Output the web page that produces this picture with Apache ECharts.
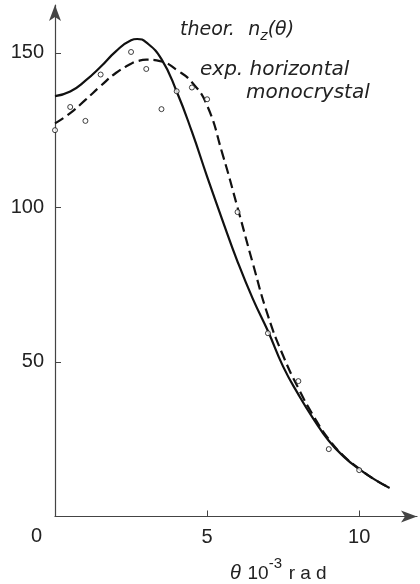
<!DOCTYPE html>
<html>
<head>
<meta charset="utf-8">
<script src="https://cdn.jsdelivr.net/npm/echarts@6/dist/echarts.min.js"></script>
<style>
  html, body { margin: 0; padding: 0; background: #fff; }
  #chart { width: 420px; height: 584px; }
</style>
</head>
<body>
<div id="chart"></div>
<script>
// Scattering angle theta (10^-3 rad) sampled along the curves
const curveTheta = [0, 0.5, 1, 1.5, 2, 2.5, 2.7, 3, 3.5, 4, 4.5, 5, 5.5, 6, 6.5, 7, 7.5, 8, 8.5, 9, 9.5, 10, 10.5, 11];
// Theoretical n_z(theta)
const theorValues = [136, 137.5, 141, 145.5, 150.5, 154.1, 154.5, 153.4, 148, 137.5, 124.5, 110, 96, 82.5, 70.5, 60, 48.5, 39.5, 31.5, 24.5, 19.3, 15.3, 12, 9.2];
// Smoothed experimental curve, horizontal monocrystal
const expCurveValues = [127.2, 130.5, 134.8, 139.3, 143.5, 146.5, 147.3, 147.8, 147.2, 144.5, 140.5, 133, 117.5, 100, 82, 65, 52, 41.5, 32.5, 25, 19.5, 15.5, 12, 9.3];
// Measured points
const pointTheta = [0, 0.5, 1, 1.5, 2.5, 3, 3.5, 4, 4.5, 5, 6, 7, 8, 9, 10];
const pointValues = [125, 132.5, 128, 143, 150.3, 144.8, 131.8, 137.6, 138.8, 135, 98.5, 59.3, 43.8, 21.8, 15];
// Axis ticks
const xTicks = [0, 5, 10];
const yTicks = [50, 100, 150];

const zip = (xs, ys) => xs.map((x, i) => [x, ys[i]]);

const chart = echarts.init(document.getElementById('chart'), null, { renderer: 'canvas' });
const axisColor = '#444';
const tickFamily = 'Liberation Sans, Arial, sans-serif';
const noteFont = 'DejaVu Sans, sans-serif';

chart.setOption({
  animation: false,
  backgroundColor: '#fff',
  grid: { left: 55, right: 3, top: 5, bottom: 67.5, containLabel: false },
  xAxis: {
    type: 'value', min: 0, max: 11.9, interval: 5,
    axisLine: { show: true, symbol: ['none', 'arrow'], symbolSize: [9, 16], lineStyle: { color: axisColor, width: 1.2 } },
    axisTick: { show: true, inside: true, length: 6, lineStyle: { color: axisColor } },
    axisLabel: {
      fontFamily: tickFamily, fontSize: 20, color: '#222', margin: 11, showMaxLabel: false,
      formatter: v => (xTicks.includes(v) && v !== 0) ? String(v) : ''
    },
    splitLine: { show: false }
  },
  yAxis: {
    type: 'value', min: 0, max: 165.5, interval: 50,
    axisLine: { show: true, symbol: ['none', 'arrow'], symbolSize: [9, 16], lineStyle: { color: axisColor, width: 1.2 } },
    axisTick: { show: true, inside: true, length: 6, lineStyle: { color: axisColor } },
    axisLabel: {
      fontFamily: tickFamily, fontSize: 20, color: '#222', margin: 11, showMinLabel: false, showMaxLabel: false,
      formatter: v => yTicks.includes(v) ? String(v) : ''
    },
    splitLine: { show: false }
  },
  graphic: [
    { type: 'text', left: 31, top: 526, style: { text: String(xTicks[0]), font: '20px ' + tickFamily, fill: '#222' } },
    {
      type: 'text', left: 230, top: 556,
      style: {
        text: '{th|θ}  {t|10}{sup|-3}  {t|r a d}',
        rich: {
          th: { font: 'italic 20px ' + tickFamily, fill: '#222', verticalAlign: 'bottom' },
          t: { font: '19px ' + tickFamily, fill: '#222', verticalAlign: 'bottom' },
          sup: { font: '15px ' + tickFamily, fill: '#222', padding: [0, 0, 12, 0], verticalAlign: 'bottom' }
        }
      }
    },
    {
      type: 'text', left: 180, top: 21,
      style: {
        text: '{i|theor.}    {i|n}{sub|z}{i|(θ)}',
        rich: {
          i: { font: 'italic 300 19px ' + noteFont, fill: '#222' },
          sub: { font: 'italic 300 14px ' + noteFont, fill: '#222', padding: [12, 0, 0, 0] }
        }
      }
    },
    { type: 'text', left: 200, top: 60, style: { text: 'exp. horizontal', font: 'italic 300 20px ' + noteFont, fill: '#222' } },
    { type: 'text', left: 246, top: 83, style: { text: 'monocrystal', font: 'italic 300 20px ' + noteFont, fill: '#222' } }
  ],
  series: [
    {
      name: 'exp. horizontal monocrystal', type: 'line', data: zip(curveTheta, expCurveValues),
      smooth: 0.5, showSymbol: false, z: 2,
      lineStyle: { color: '#111', width: 2.2, type: [10, 5] }
    },
    {
      name: 'theor. n_z', type: 'line', data: zip(curveTheta, theorValues),
      smooth: 0.5, showSymbol: false, z: 3,
      lineStyle: { color: '#111', width: 2.2 }
    },
    {
      name: 'measured', type: 'scatter', data: zip(pointTheta, pointValues),
      symbol: 'circle', symbolSize: 5, z: 5,
      itemStyle: { color: '#fff', borderColor: '#111', borderWidth: 1 }
    }
  ]
});
</script>
</body>
</html>
